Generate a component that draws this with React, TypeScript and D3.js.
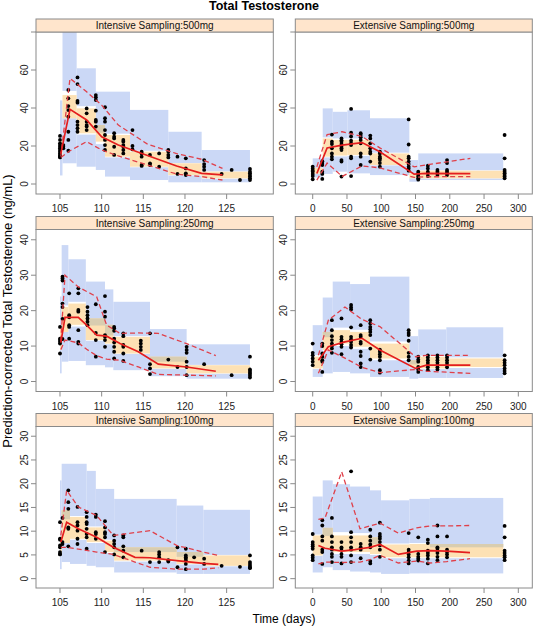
import React from "react";
import * as d3 from "d3";

type Band = [number, number, number, number, number, number, number, number];
type Obs = [number, number[]];

const chartTitle = "Total Testosterone";
const xTitle = "Time (days)";
const yTitle = "Prediction-corrected Total Testosterone (ng/mL)";
const panelTitles = [
  "Intensive Sampling:500mg",
  "Extensive Sampling:500mg",
  "Intensive Sampling:250mg",
  "Extensive Sampling:250mg",
  "Intensive Sampling:100mg",
  "Extensive Sampling:100mg",
];

const intensiveTicks = [105, 110, 115, 120, 125];
const extensiveTicks = [0, 50, 100, 150, 200, 250, 300];
const yTicks500 = [0, 20, 40, 60, 80];
const yTicks250 = [0, 10, 20, 30, 40];
const yTicks100 = [0, 5, 10, 15, 20, 25, 30];

const intensiveDomain = [102.12, 130.6];
const extensiveDomain = [-25.4, 320.4];
const yDomain500 = [-5.26, 80];
const yDomain250 = [-2.82, 42.9];
const yDomain100 = [-1.97, 32.05];

// bands: [t0, t1, 5th lo, 5th hi, median lo, median hi, 95th lo, 95th hi]
const i500Bands: Band[] = [
  [105.0, 105.3, 4.5, 15, 15, 23, 23, 44],
  [105.3, 107.0, 10.9, 34.6, 34.6, 46.8, 49, 95],
  [107.0, 109.3, 9.1, 26, 26.7, 39.8, 41, 60.9],
  [109.3, 110.4, 7.4, 21, 22.3, 31, 27, 48.6],
  [110.4, 113.4, 3.9, 14, 14.4, 25.8, 26.5, 48.6],
  [113.4, 118.0, 2.1, 8.8, 9.1, 17, 17.5, 39],
  [118.0, 122.0, 0.9, 4.5, 4.7, 10.9, 11, 27.5],
  [122.0, 127.8, 0.9, 2.8, 3, 6.5, 6.6, 17.9],
];
const e500Bands: Band[] = [
  [0, 14.6, 3.5, 5.5, 5.5, 8.5, 8.5, 13.5],
  [14.6, 29.2, 5.3, 14, 14.4, 24, 24.5, 39.8],
  [29.2, 50.6, 6.5, 14.5, 15, 23.2, 24, 38],
  [50.6, 83.6, 5.6, 14.8, 15.3, 23.2, 24, 38.8],
  [83.6, 141, 4.7, 9.8, 10, 16.1, 16.5, 34.6],
  [141, 154, 1.2, 3, 3, 5.5, 5.5, 12.6],
  [154, 278, 2.1, 2.9, 3, 7, 7.2, 16.1],
];
const i250Bands: Band[] = [
  [105.0, 105.2, 2.3, 9, 9, 15, 15, 24],
  [105.2, 106.0, 5.6, 14, 14, 21, 21.5, 38.5],
  [106.0, 108.1, 5.8, 15.5, 16, 22, 22.5, 34.5],
  [108.1, 110.4, 4.6, 11.5, 11.7, 17.8, 15.8, 28.2],
  [110.4, 111.4, 4, 10.5, 10.7, 16, 13, 26],
  [111.4, 115.8, 3.2, 7.8, 7.9, 12.6, 12.8, 22.5],
  [115.8, 120.2, 1.5, 3.6, 3.7, 7, 5.6, 14.8],
  [120.2, 127.8, 0.8, 2.2, 2.3, 4.6, 4.7, 10.5],
];
const e250Bands: Band[] = [
  [0, 14.6, 1.3, 3.5, 3.7, 7, 7.5, 15.9],
  [14.6, 29.2, 2.3, 8.5, 8.9, 14, 12.5, 23.7],
  [29.2, 54.5, 2.7, 10, 10.7, 14.5, 15.2, 28.2],
  [54.5, 83.6, 2.3, 9.2, 9.8, 14, 14.6, 27.5],
  [83.6, 141, 1.3, 6, 6.5, 10.7, 11.3, 29.6],
  [141, 154, 0.8, 4, 4.1, 6, 4.8, 12.8],
  [154, 195, 1, 3.5, 3.7, 7, 7.3, 14.7],
  [195, 278, 1, 3.8, 4.1, 6.5, 6.8, 15.3],
];
const i100Bands: Band[] = [
  [105.0, 105.2, 2, 5, 5, 9, 9, 20.7],
  [105.2, 106.2, 3.5, 7.5, 7.5, 14.4, 12.5, 24.2],
  [106.2, 108.2, 3.1, 8.2, 8.4, 13, 13.2, 24.2],
  [108.2, 109.3, 2.7, 7.5, 7.7, 10.8, 11, 22.7],
  [109.3, 110.4, 2.4, 7.5, 7.7, 10.8, 11, 18.9],
  [110.4, 111.5, 2.4, 5.4, 5.6, 8, 8.2, 18.9],
  [111.5, 119.0, 1.3, 3.6, 3.8, 6.6, 5.6, 16.8],
  [119.0, 122.2, 1, 3, 3.1, 5.6, 4.6, 15.4],
  [122.2, 127.8, 1, 2.6, 2.7, 4.9, 5, 14.5],
];
const e100Bands: Band[] = [
  [0, 14.6, 1.3, 4.8, 4.9, 9.1, 9.3, 17.3],
  [14.6, 29.2, 2.4, 6.2, 6.3, 10.7, 9, 20.7],
  [29.2, 54.5, 1.8, 5.2, 5.6, 9.1, 9.8, 19.9],
  [54.5, 83.6, 1.5, 5.2, 5.6, 9.1, 9.6, 19.4],
  [83.6, 99.7, 1.3, 5, 5.2, 8.7, 7.3, 18.6],
  [99.7, 141, 1, 4.3, 4.5, 7.2, 7.4, 16.5],
  [141, 171, 1.1, 4.3, 4.5, 7.3, 7.5, 16.8],
  [171, 278, 1.1, 4.3, 4.5, 7.3, 6.6, 17],
];

// observed points: [time, values]
const i500Obs: Obs[] = [
  [105.0, [25.3, 23.2, 21.4, 20.5, 19.6, 18.8, 17.9, 17, 16.1, 15.3, 14.7, 14.4, 14]],
  [105.4, [20.5, 19.6, 18.8]],
  [106.0, [49.5, 45.1, 41, 38.9, 35.4, 27.5, 23.2, 17.5]],
  [107.1, [56.1, 52.6, 43.7, 42.8, 32.8, 31, 29.3, 27.5]],
  [108.2, [39.8, 37.2, 32.8, 31, 30.2, 28.4]],
  [109.3, [46.8, 45.6, 44.2, 38.6, 33.7, 32.8, 30.2]],
  [110.4, [40.4, 34.6, 32.8, 28.4, 25.8, 23.2, 20.5, 17.9]],
  [111.5, [26.7, 24.9, 24, 19.6, 15.3]],
  [112.6, [23.2, 22.3, 20.5, 19.6, 17.9, 16.1]],
  [113.7, [28.4, 20, 18.2]],
  [114.8, [17, 16.1, 14.4, 10, 9.5]],
  [115.8, [15.3, 10.9, 10]],
  [116.9, [16.1, 9.1]],
  [118.0, [17.9, 17, 15.3, 14]],
  [119.1, [14.4, 5.3]],
  [120.1, [13.5, 8.2, 5.6, 4.7]],
  [122.3, [12.6, 10.5, 9.1, 7.4]],
  [124.4, [5.3]],
  [125.6, [7.4]],
  [126.6, [2.1]],
  [127.8, [7.9, 6.5, 5.6, 4.7, 3.9, 3, 2.1]],
];
const e500Obs: Obs[] = [
  [0, [9.1, 8, 7, 6.5, 5.3, 4.2, 2.5]],
  [14, [12, 11, 10, 6.5, 5.3, 2.7]],
  [28, [26, 22.3, 21, 18.8, 16.1, 14.4, 13]],
  [42, [24, 23, 22.3, 21, 19.6, 18.8, 17.9, 12.6, 11.8, 3.9]],
  [56, [39.5, 27, 25, 22.8, 21.4, 20.5, 14.4, 13.5, 4.2]],
  [70, [26.7, 25.8, 24.6, 23.2, 21.4, 16.1, 14.4, 10]],
  [84, [25.5, 24, 21.4, 18.8, 17, 16, 11.8]],
  [98, [17, 16, 14.4, 13.5, 12.6, 11, 9.1]],
  [140, [34, 20.8, 14.4, 13.5, 11.8, 10.5, 9.1, 8.2, 7]],
  [154, [6.5, 5.6, 4.7, 3.9, 3, 2.3]],
  [168, [9.6, 8.2, 6.5, 5.6, 4.2]],
  [182, [7.4, 6.5, 5.6, 4.7]],
  [196, [12.6, 11, 7.4, 6.5, 5.6, 4.7]],
  [280, [25.8, 13.5, 7.4, 6.5, 5.6, 4.7, 3.9, 3]],
];
const i250Obs: Obs[] = [
  [105.0, [15.4, 12.1, 11.7, 11.2, 10.7, 7.9]],
  [105.3, [29.6, 29.1, 28.5, 22, 21, 17.7, 12]],
  [106.1, [24.9, 18.7, 18.1, 15.9, 15.4, 12.1]],
  [107.2, [26.3, 24.9, 20.2, 19.7, 14.5, 11.2, 10.7]],
  [108.3, [21, 19.7, 18.7, 17.8, 16.9, 15.9]],
  [109.3, [21.8, 13.7, 11.7, 7]],
  [110.4, [24.1, 19.7, 18.3, 13.1, 12.6, 11.7, 9.8]],
  [111.5, [15.4, 15, 14.3, 12.1, 11, 9.8, 8.4, 6.5]],
  [112.6, [13.6, 12.8, 10.3, 9.8, 7.9, 5.8]],
  [114.7, [11.5, 10.7, 9.8, 8.9]],
  [115.8, [13.6, 4.9, 3.7, 2.1]],
  [118.0, [6.2]],
  [119.1, [4.1]],
  [120.2, [9.8, 8.9, 8.1, 5.6, 4.1, 1.8]],
  [122.3, [4.9]],
  [125.6, [1.8]],
  [127.8, [7, 3.4, 3, 2.5, 2.1, 1.6, 1.1]],
];
const e250Obs: Obs[] = [
  [0, [10.7, 8.1, 7.4, 6.5, 5.6, 4.6]],
  [14, [10.7, 10, 7.9, 7, 6, 5.6, 2.7]],
  [28, [17.3, 14.5, 12.8, 11.7, 10.7, 10, 9.3, 8.1]],
  [42, [17.8, 12.6, 11.9, 11.2, 10.5, 9.8, 7.7]],
  [56, [21.6, 20.9, 20.3, 15.3, 12.6, 11.9, 11.2, 10.3, 9.6]],
  [70, [15.9, 13.1, 12.6, 11.2, 10.7, 8.4, 7.2, 5.1, 4.1]],
  [84, [17.3, 16.4, 15.4, 14.7, 14, 13.1, 9.3, 6.2]],
  [98, [9, 8.4, 7.7, 7, 6, 3.2, 2.5]],
  [140, [14.5, 13.7, 13.1, 11.5, 8.1, 7, 6]],
  [154, [7, 6.2, 5.6, 4.1, 3.4, 2.7]],
  [168, [7.4, 6.8, 6, 5.3, 4.6, 4, 3.2]],
  [182, [7.4, 6.8, 6, 5.3, 4.6, 4, 3.4]],
  [196, [7.4, 6.8, 6, 5.3, 4.6, 4]],
  [280, [7.4, 6, 5.3, 4.6, 3.7, 3, 2.3]],
];
const i100Obs: Obs[] = [
  [105.0, [11.9, 8.4, 8.2, 7, 6.6, 5.6, 5.2, 5.1]],
  [105.3, [12.8, 7.7, 7.3]],
  [106.0, [18.6, 16.1, 14.7, 10.8, 10.5, 6.8]],
  [107.1, [15.1, 11.9, 11.2, 10.1, 8.4, 7.3]],
  [108.2, [14, 13, 11.9, 11.5, 10.5, 9.4, 8.7, 6.3]],
  [109.3, [13.5, 13, 9.8, 9.4, 8.4]],
  [110.4, [12.1, 10.8, 9.8, 9.4, 8.7, 5.6]],
  [111.5, [9.1, 8, 7.3, 6.6, 5.1]],
  [112.6, [9.1, 8.7, 6.8, 5.9, 4.5]],
  [114.8, [5.9]],
  [115.8, [3.5]],
  [116.9, [5.6, 5.1, 4.5, 3.5]],
  [118.0, [3.9, 3.6]],
  [119.1, [6.6, 2.4]],
  [120.1, [6.3, 4.9, 4.5, 4.2, 3.8, 3.1, 2]],
  [121.1, [4.5]],
  [122.3, [4.2, 3.1]],
  [124.4, [2.7]],
  [126.6, [2.5]],
  [127.8, [4.9, 3.5, 3.1, 2.7, 2.4, 2.2]],
];
const e100Obs: Obs[] = [
  [0, [9.4, 7.7, 7.2, 6.8, 6.3, 4.9, 4.4, 3.9]],
  [14, [12.3, 11.2, 8.9, 8, 6.1, 5.6, 3.1]],
  [28, [12.8, 8.9, 7.7, 6.6, 6.1, 5.2, 4.6, 3.5]],
  [42, [7.7, 6.6, 6.3, 5.2, 4.6, 3.2]],
  [56, [22.6, 9.8, 8.7, 7.7, 6.6, 6.1, 4.9, 3.5]],
  [70, [7.3, 6.6, 6.1, 4.3]],
  [84, [10.3, 8.9, 8, 7.2, 6.6, 3.7, 3.2]],
  [98, [11.8, 9.4, 8.9, 8.4, 7.7, 7, 6.1, 4.6]],
  [140, [9.6, 6.1, 5.6, 5.1, 4.5, 3.8, 3.2]],
  [154, [8.7, 5.2, 4.6, 4.2, 3.8]],
  [168, [8.2, 7.5, 5.9, 5.4, 4.9, 4.2, 3.2]],
  [182, [11.2, 8.9, 6.6, 6.3, 5.8, 5.4, 4.6, 3.9]],
  [196, [8.9, 6.1, 5.6, 5.1, 4.5]],
  [280, [11.1, 8.7, 5.9, 5.4, 4.9, 4.5, 3.9]],
];

// observed percentile lines
const i500Time = [105.1, 106.2, 108.2, 110.0, 112.0, 115.5, 119.0, 122.0, 124.5];
const i500P50 = [16, 39.3, 33.7, 24.9, 20.5, 15, 9.5, 5.6, 4.8];
const i500P95 = [14.5, 55.6, 48.5, 41.5, 31, 21, 16, 13, 8.2];
const i500P5 = [14.0, 17.5, 22.3, 17.9, 14.8, 10, 5.2, 3.9, 2.1];

const e500Time = [6, 21, 43, 72, 98, 148, 165, 230];
const e500P50 = [5.5, 19, 20.5, 21.8, 17, 5.2, 5.6, 5.5];
const e500P95 = [9, 26, 27.5, 25, 19, 9, 10, 13.5];
const e500P5 = [2, 11, 4, 9.5, 8.5, 3.5, 3.8, 3.9];

const i250Time = [105.1, 105.6, 107.2, 108.2, 109.4, 110.6, 112.2, 114.4, 116.8, 120.2, 123.7];
const i250P50 = [11, 18.1, 18.1, 15.9, 13.1, 12.8, 10.7, 8.4, 4.9, 4.1, 2.9];
const i250P95 = [11.5, 30, 26.7, 25.4, 23.9, 15.9, 13.6, 13.7, 13.6, 10.7, 7.3];
const i250P5 = [9, 11.7, 10.9, 9.1, 7.3, 6.3, 6, 4.1, 2, 1.8, 1.6];

const e250Time = [8.3, 22.8, 47, 72, 98, 150, 166, 230];
const e250P50 = [6, 9.8, 11.2, 12.2, 8.9, 3.7, 4.6, 4.6];
const e250P95 = [7.4, 17.3, 21, 17.5, 15.5, 7, 7.4, 7.4];
const e250P5 = [2.3, 8.9, 6.6, 4, 2.5, 3.4, 2.9, 2.3];

const i100Time = [105.1, 105.8, 107.2, 109.4, 111.4, 114.0, 115.8, 119.0, 122.2, 124.0];
const i100P50 = [7.7, 11.9, 10.5, 8.7, 6.6, 4.5, 4.4, 3.8, 3.2, 3];
const i100P95 = [9.1, 18.6, 15.1, 13.3, 9.1, 9.7, 10.1, 7, 5.6, 4.9];
const i100P5 = [6.6, 6.6, 6.2, 5.6, 5.1, 3.5, 2.4, 2, 2, 2.3];

const e100Time = [8.3, 18, 42.3, 61.7, 69, 83.6, 98.2, 124.9, 151.7, 171, 195.4, 229.5];
const e100P50 = [7, 6.4, 5.8, 6.1, 6.3, 6.6, 7.2, 5.1, 5.8, 5.9, 5.8, 5.5];
const e100P95 = [12.5, 12.8, 22.5, 13.8, 10.5, 11.1, 11.7, 9.6, 10.7, 11.1, 11.1, 11.2];
const e100P5 = [3.1, 3.5, 3.4, 3.5, 3.5, 4, 4.9, 3.3, 3.7, 3.3, 3.6, 4.2];

const panels = [
  { title: panelTitles[0], xd: intensiveDomain, yd: yDomain500, xt: intensiveTicks, yt: yTicks500, bands: i500Bands, obs: i500Obs, t: i500Time, p50: i500P50, p95: i500P95, p5: i500P5 },
  { title: panelTitles[1], xd: extensiveDomain, yd: yDomain500, xt: extensiveTicks, yt: yTicks500, bands: e500Bands, obs: e500Obs, t: e500Time, p50: e500P50, p95: e500P95, p5: e500P5 },
  { title: panelTitles[2], xd: intensiveDomain, yd: yDomain250, xt: intensiveTicks, yt: yTicks250, bands: i250Bands, obs: i250Obs, t: i250Time, p50: i250P50, p95: i250P95, p5: i250P5 },
  { title: panelTitles[3], xd: extensiveDomain, yd: yDomain250, xt: extensiveTicks, yt: yTicks250, bands: e250Bands, obs: e250Obs, t: e250Time, p50: e250P50, p95: e250P95, p5: e250P5 },
  { title: panelTitles[4], xd: intensiveDomain, yd: yDomain100, xt: intensiveTicks, yt: yTicks100, bands: i100Bands, obs: i100Obs, t: i100Time, p50: i100P50, p95: i100P95, p5: i100P5 },
  { title: panelTitles[5], xd: extensiveDomain, yd: yDomain100, xt: extensiveTicks, yt: yTicks100, bands: e100Bands, obs: e100Obs, t: e100Time, p50: e100P50, p95: e100P95, p5: e100P5 },
];

const W = 533;
const H = 627;
const COLS = [
  { left: 36, right: 273.3 },
  { left: 295.3, right: 532.3 },
];
const ROWS = [
  { top: 32, bottom: 194 },
  { top: 229.5, bottom: 391.5 },
  { top: 426.5, bottom: 588 },
];
const STRIP_H = 13;
const FONT = "'Liberation Sans', Arial, sans-serif";
const BLUE = "#CBD8F6";
const ORANGE = "#FDE1B4";
const TAN = "#D9CDB0";
const BORDER = "#8A8A8A";
const RED = "#E41E1E";
const RED_DASH = "#E0404A";

function Panel({ p, idx }: { p: any; idx: number }) {
  const col = COLS[idx % 2];
  const row = ROWS[Math.floor(idx / 2)];
  const x = d3.scaleLinear().domain(p.xd).range([col.left, col.right]);
  const y = d3.scaleLinear().domain(p.yd).range([row.bottom, row.top]);
  const clipId = `clip-${idx}`;
  const mk = (vals: number[]) =>
    d3
      .line<number>()
      .x((_, i) => x(p.t[i]))
      .y((d) => y(d))(vals) || "";

  const rect = (x0: number, x1: number, a: number, b: number) => {
    const yt = y(Math.max(a, b));
    const yb = y(Math.min(a, b));
    return { x: x(x0), y: yt, width: x(x1) - x(x0), height: yb - yt };
  };

  const overlaps: any[] = [];
  p.bands.forEach((b: Band, i: number) => {
    const ms = [b[4], b[5]];
    [[b[2], b[3]], [b[6], b[7]]].forEach((bl, j) => {
      const lo = Math.max(ms[0], bl[0]);
      const hi = Math.min(ms[1], bl[1]);
      if (hi > lo) overlaps.push({ key: `${i}-${j}`, ...rect(b[0], b[1], lo, hi) });
    });
  });

  const w = col.right - col.left;
  return (
    <g>
      <defs>
        <clipPath id={clipId}>
          <rect x={col.left} y={row.top} width={w} height={row.bottom - row.top} />
        </clipPath>
      </defs>
      <g clipPath={`url(#${clipId})`}>
        {p.bands.map((b: Band, i: number) => (
          <g key={`b${i}`}>
            <rect {...rect(b[0], b[1], b[2], b[3])} fill={BLUE} />
            <rect {...rect(b[0], b[1], b[6], b[7])} fill={BLUE} />
          </g>
        ))}
        {p.bands.map((b: Band, i: number) => (
          <rect key={`m${i}`} {...rect(b[0], b[1], b[4], b[5])} fill={ORANGE} />
        ))}
        {overlaps.map((o) => (
          <rect key={`o${o.key}`} x={o.x} y={o.y} width={o.width} height={o.height} fill={TAN} />
        ))}
        {p.obs.map((o: Obs, i: number) =>
          o[1].map((v, j) => <circle key={`p${i}-${j}`} cx={x(o[0])} cy={y(v)} r={1.9} fill="#000" />)
        )}
        <path d={mk(p.p95)} fill="none" stroke={RED_DASH} strokeWidth={1.3} strokeDasharray="5,3" />
        <path d={mk(p.p5)} fill="none" stroke={RED_DASH} strokeWidth={1.3} strokeDasharray="5,3" />
        <path d={mk(p.p50)} fill="none" stroke={RED} strokeWidth={1.7} />
      </g>
      <rect x={col.left} y={row.top} width={w} height={row.bottom - row.top} fill="none" stroke={BORDER} strokeWidth={1} />
      <rect x={col.left} y={row.top - STRIP_H} width={w} height={STRIP_H} fill="#FFE5CC" stroke={BORDER} strokeWidth={1} />
      <text x={col.left + w / 2} y={row.top - 3} textAnchor="middle" fontSize={10} fontFamily={FONT} fill="#111">
        {p.title}
      </text>
      {p.xt.map((t: number) => (
        <g key={`xt${t}`}>
          <line x1={x(t)} x2={x(t)} y1={row.bottom} y2={row.bottom + 5} stroke={BORDER} />
          <text x={x(t)} y={row.bottom + 18} textAnchor="middle" fontSize={10} fontFamily={FONT} fill="#222">
            {t}
          </text>
        </g>
      ))}
      {p.yt.map((t: number) => (
        <g key={`yt${t}`}>
          <line x1={col.left - 5} x2={col.left} y1={y(t)} y2={y(t)} stroke={BORDER} />
          {y(t) - row.top > 5 && (
            <text
              transform={`translate(${col.left - 8},${y(t)}) rotate(-90)`}
              textAnchor="middle"
              fontSize={10}
              fontFamily={FONT}
              fill="#222"
            >
              {t}
            </text>
          )}
        </g>
      ))}
    </g>
  );
}

export default function App() {
  return (
    <svg
      width={W}
      height={H}
      viewBox={`0 0 ${W} ${H}`}
      style={{ position: "absolute", left: 0, top: 0, background: "#fff" }}
    >
      <rect x={0} y={0} width={W} height={H} fill="#fff" />
      <text x={264} y={10} textAnchor="middle" fontSize={12.5} fontWeight="bold" fontFamily={FONT} fill="#000">
        {chartTitle}
      </text>
      {panels.map((p, i) => (
        <Panel key={i} p={p} idx={i} />
      ))}
      <text x={284} y={623} textAnchor="middle" fontSize={12} fontFamily={FONT} fill="#000">
        {xTitle}
      </text>
      <text transform={`translate(12,311) rotate(-90)`} textAnchor="middle" fontSize={13} fontFamily={FONT} fill="#000">
        {yTitle}
      </text>
    </svg>
  );
}
